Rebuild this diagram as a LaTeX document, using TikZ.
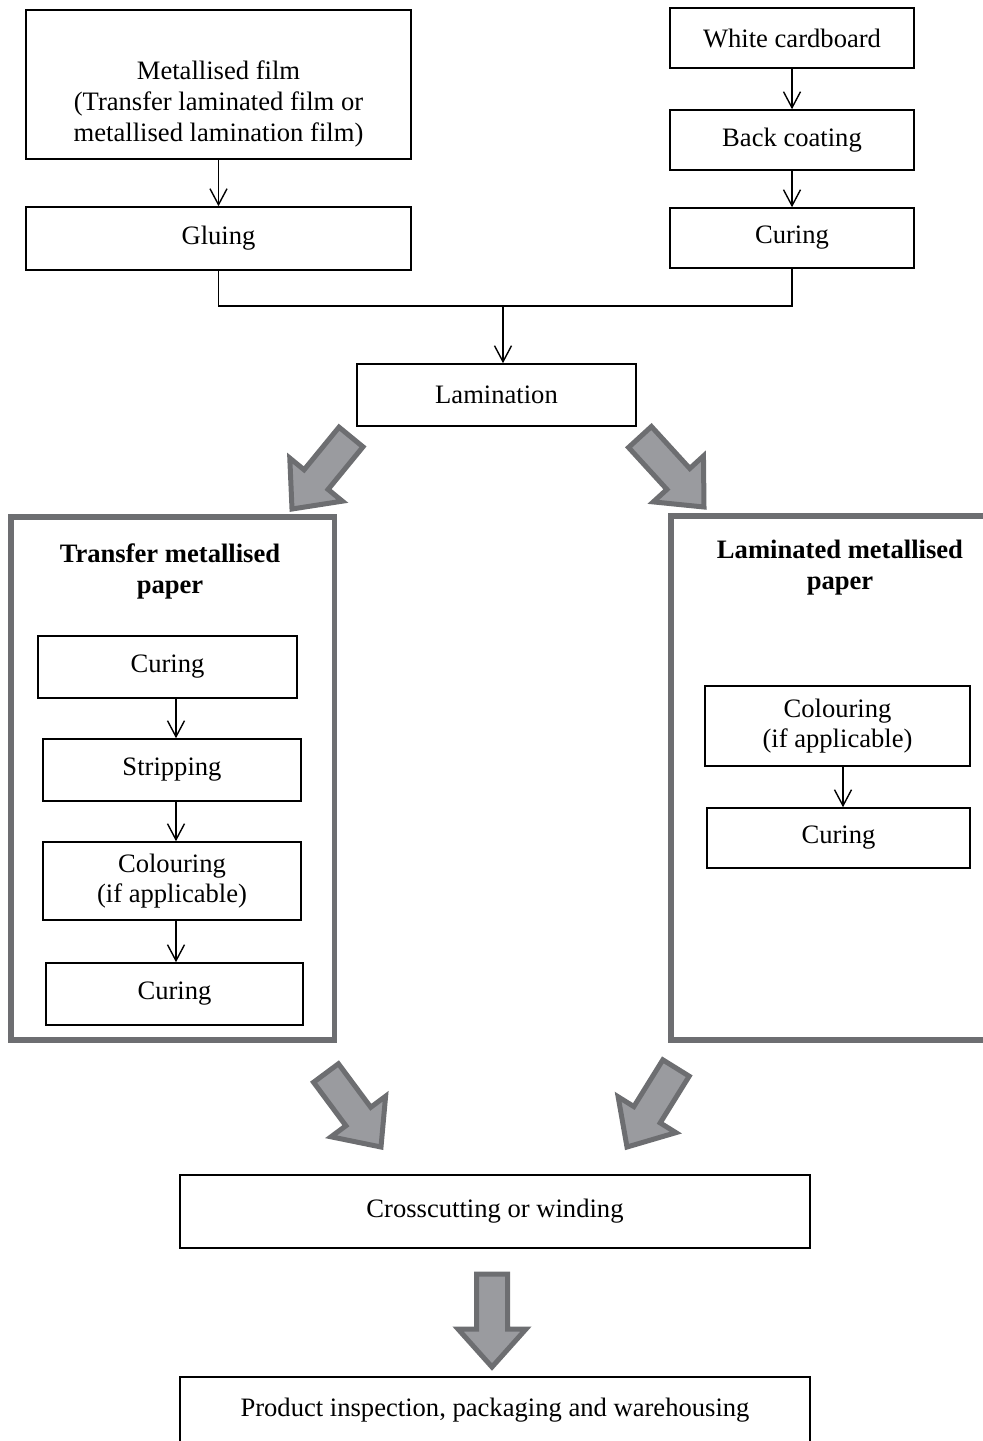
\documentclass[tikz,border=0pt]{standalone}
\usepackage{fontspec}
\setmainfont{Liberation Serif}
\usetikzlibrary{calc,arrows.meta}
\definecolor{panelgray}{RGB}{109,110,113}
\definecolor{arrowfill}{RGB}{154,155,159}
\tikzset{
  stepbox/.style={draw=black, line width=0.8pt, inner sep=0pt, align=center,
    font=\fontsize{13.3}{15.3}\selectfont},
  flow/.style={draw=black, line width=0.7pt, -{Straight Barb[length=8pt,width=8.5pt]}},
  link/.style={draw=black, line width=0.7pt},
  panel/.style={draw=panelgray, line width=2.8pt},
  fatarrow/.style={draw=panelgray, fill=arrowfill, line width=2.5pt, line join=miter},
  lbl/.style={font=\fontsize{13.3}{15.3}\selectfont, align=center, inner sep=0pt},
  paneltitle/.style={font=\fontsize{13.3}{15.5}\selectfont\bfseries, align=center, inner sep=0pt},
}
% block arrow from tail coordinate #1 to tip coordinate #2
\newcommand\fatarrow[2]{%
  \coordinate (fa-h) at ($(#2)!19pt!(#1)$);
  \draw[fatarrow] ($(#1)!7.75pt!90:(#2)$) -- ($(fa-h)!7.75pt!90:(#2)$)
    -- ($(fa-h)!17pt!90:(#2)$) -- (#2) -- ($(fa-h)!17pt!-90:(#2)$)
    -- ($(fa-h)!7.75pt!-90:(#2)$) -- ($(#1)!7.75pt!-90:(#2)$) -- cycle;}
\begin{document}
\begin{tikzpicture}[x=0.5pt, y=-0.5pt]
\useasboundingbox (0,0) rectangle (983,1441);
\clip (0,0) rectangle (983,1441);

% --- top: film and cardboard branches
\node[stepbox, minimum width=192.5pt, minimum height=74.5pt] (film) at (218.5,84.5) {};
\node[lbl] (filmtext) at (218.5,104) {Metallised film\\(Transfer laminated film or\\metallised lamination film)};
\node[stepbox, minimum width=192.5pt, minimum height=31.5pt] (glue) at (218.5,238.5) {Gluing};

\node[stepbox, minimum width=122pt, minimum height=30pt] (white) at (792,38) {White cardboard};
\node[stepbox, minimum width=122pt, minimum height=30pt] (back) at (792,140) {Back coating};
\node[stepbox, minimum width=122pt, minimum height=30pt] (curA) at (792,238) {Curing};

\node[stepbox, minimum width=139.5pt, minimum height=31pt] (lam) at (496.5,395) {Lamination};

\draw[flow] (film) -- (glue);
\draw[flow] (white) -- (back);
\draw[flow] (back) -- (curA);
\coordinate (join) at (503,306);
\draw[link] (glue.south) -- (glue.south |- join) -- (curA.south |- join) -- (curA.south);
\draw[flow] (join) -- (lam.north -| join);

% --- left panel: transfer metallised paper
\draw[panel] (11,517) rectangle (334.5,1040);
\node[paneltitle] (ltitle) at (170,571.5) {Transfer metallised\\paper};
\node[stepbox, minimum width=129.5pt, minimum height=31pt] (lc1) at (167.5,667) {Curing};
\node[stepbox, minimum width=129pt, minimum height=31pt] (strip) at (172,770) {Stripping};
\node[stepbox, minimum width=129pt, minimum height=39pt] (lcol) at (172,881) {Colouring\\(if applicable)};
\node[stepbox, minimum width=128.5pt, minimum height=31pt] (lc2) at (174.5,994) {Curing};
\coordinate (axL) at (176,0);
\draw[flow] (lc1.south -| axL) -- (strip.north -| axL);
\draw[flow] (strip.south -| axL) -- (lcol.north -| axL);
\draw[flow] (lcol.south -| axL) -- (lc2.north -| axL);

% --- right panel: laminated metallised paper
\draw[panel] (671,516) rectangle (1000,1040);
\node[paneltitle] (rtitle) at (840,567.5) {Laminated metallised\\paper};
\node[stepbox, minimum width=132.5pt, minimum height=40pt] (rcol) at (837.5,726) {Colouring\\(if applicable)};
\node[stepbox, minimum width=131.5pt, minimum height=30pt] (rc) at (838.5,838) {Curing};
\coordinate (axR) at (843,0);
\draw[flow] (rcol.south -| axR) -- (rc.north -| axR);

% --- bottom: finishing
\node[stepbox, minimum width=315pt, minimum height=36.5pt] (cross) at (495,1211.5) {Crosscutting or winding};
\node[stepbox, minimum width=315pt, minimum height=40pt] (prod) at (495,1417) {};
\node[lbl] (prodtext) at (495,1410) {Product inspection, packaging and warehousing};

% --- block arrows between stages
\coordinate (t1) at (351,437);  \coordinate (h1) at (292,509);
\coordinate (t2) at (640,437);  \coordinate (h2) at (704,507);
\coordinate (t3) at (326,1073); \coordinate (h3) at (381,1147);
\coordinate (t4) at (676,1068); \coordinate (h4) at (627,1147);
\coordinate (t5) at (492,1274); \coordinate (h5) at (492,1367);
\fatarrow{t1}{h1}
\fatarrow{t2}{h2}
\fatarrow{t3}{h3}
\fatarrow{t4}{h4}
\fatarrow{t5}{h5}
\end{tikzpicture}
\end{document}
